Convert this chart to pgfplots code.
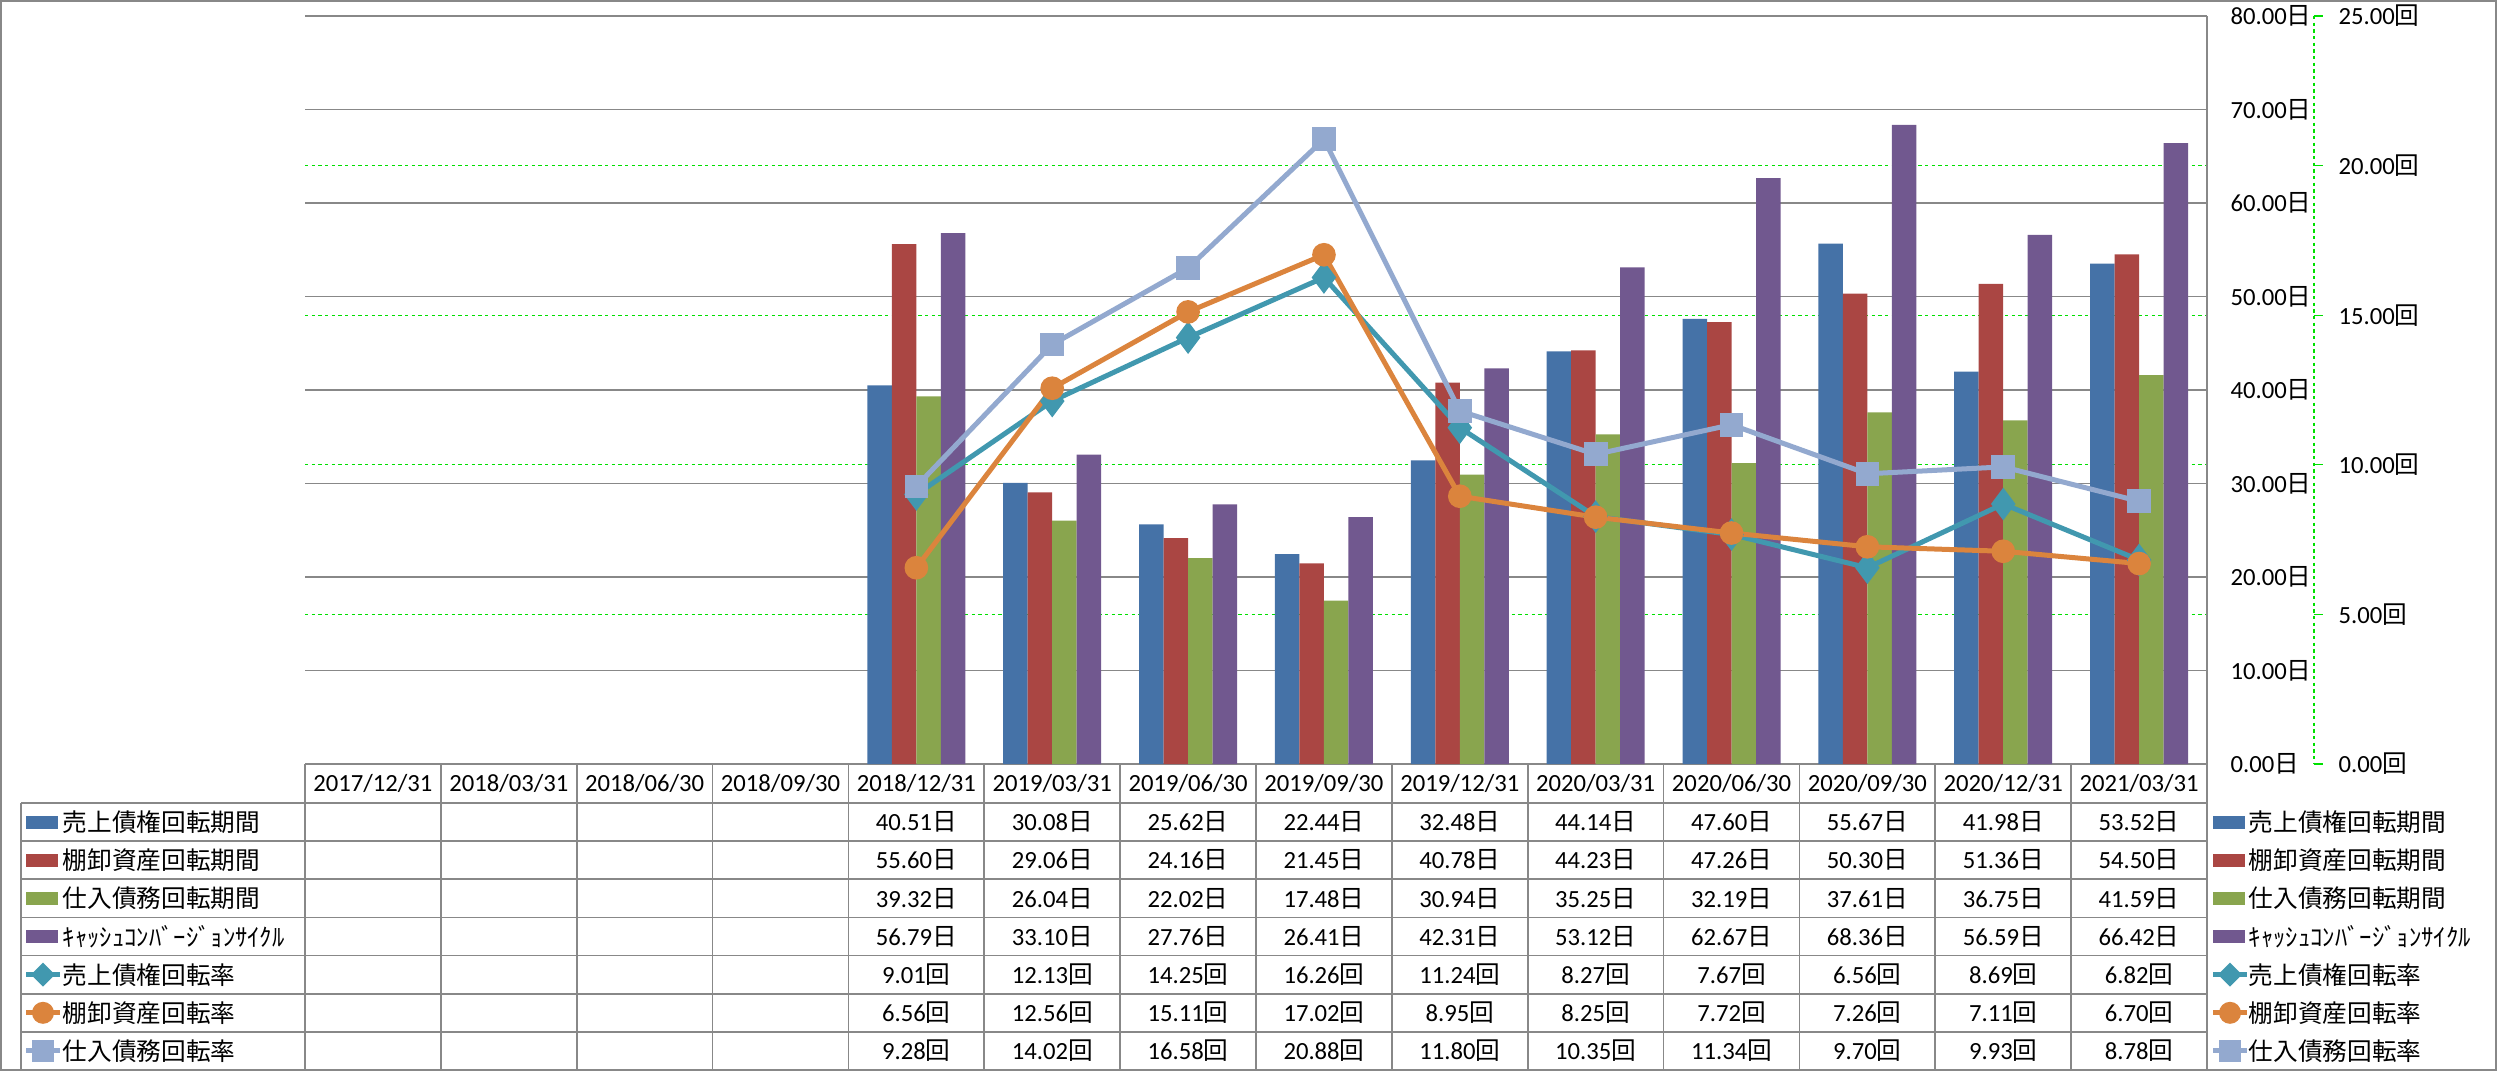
\documentclass[border=0pt]{standalone}
\usepackage{fontspec}
\setmainfont{Carlito}
\newfontfamily\cjk{Noto Sans CJK JP}
\usepackage{pgfplots}
\usepackage{pgfplotstable}
\pgfplotsset{compat=1.18}

\definecolor{cBlue}{HTML}{4572A7}
\definecolor{cRed}{HTML}{AA4643}
\definecolor{cGreen}{HTML}{89A54E}
\definecolor{cPurple}{HTML}{71588F}
\definecolor{cTeal}{HTML}{4198AF}
\definecolor{cOrange}{HTML}{DB843D}
\definecolor{cLight}{HTML}{93A9CF}
\definecolor{cGrid}{HTML}{888888}
\definecolor{cDash}{HTML}{00E000}

% x = category index (0 = 2017/12/31)
\pgfplotstableread{
x  uri   tana  shi   ccc   uriR  tanaR shiR
4  40.51 55.60 39.32 56.79 9.01  6.56  9.28
5  30.08 29.06 26.04 33.10 12.13 12.56 14.02
6  25.62 24.16 22.02 27.76 14.25 15.11 16.58
7  22.44 21.45 17.48 26.41 16.26 17.02 20.88
8  32.48 40.78 30.94 42.31 11.24 8.95  11.80
9  44.14 44.23 35.25 53.12 8.27  8.25  10.35
10 47.60 47.26 32.19 62.67 7.67  7.72  11.34
11 55.67 50.30 37.61 68.36 6.56  7.26  9.70
12 41.98 51.36 36.75 56.59 8.69  7.11  9.93
13 53.52 54.50 41.59 66.42 6.82  6.70  8.78
}\data

\pgfplotsset{
  base/.style={width=570.6pt, height=224.4pt, scale only axis,
    at={(91.5pt,-229.2pt)}, anchor=south west,
    xmin=-0.5, xmax=13.5, clip=false},
}

\begin{document}
\fontsize{7.4}{9}\selectfont
\begin{tikzpicture}
\useasboundingbox (0,0) rectangle (749.1pt,-321.3pt);

% secondary grid and labels (behind the bars)
\begin{axis}[base, ymin=0, ymax=25,
  ytick={5,10,15,20}, extra y ticks={0,25},
  extra y tick style={grid=none},
  ymajorgrids, grid style={cDash, dash pattern=on 1pt off 1pt, line width=0.4pt},
  axis line style={draw=none}, xtick=\empty, major tick length=0,
  yticklabel pos=right,
  yticklabel style={anchor=west, inner sep=0pt, xshift=39.3pt},
  yticklabel={\pgfmathprintnumber[assume math mode=true,fixed,fixed zerofill,precision=2]{\tick}{\cjk 回}}]
\end{axis}

% bars, primary axis
\begin{axis}[base, ymin=0, ymax=80, ytick={0,10,...,80},
  ymajorgrids, grid style={cGrid, line width=0.5pt},
  axis x line*=bottom, axis y line*=right,
  axis line style={cGrid, line width=0.5pt},
  xtick={0,...,13},
  xticklabels={2017/12/31,2018/03/31,2018/06/30,2018/09/30,2018/12/31,2019/03/31,2019/06/30,2019/09/30,2019/12/31,2020/03/31,2020/06/30,2020/09/30,2020/12/31,2021/03/31},
  xticklabel style={anchor=center, inner sep=0pt, yshift=-5.85pt},
  major tick length=0,
  yticklabel style={anchor=west, inner sep=0pt, xshift=6.9pt},
  yticklabel={\pgfmathprintnumber[assume math mode=true,fixed,fixed zerofill,precision=2]{\tick}{\cjk 日}},
  ybar=0pt, bar width=7.35pt]
\addplot[fill=cBlue, draw=none] table[x=x, y=uri] {\data};
\addplot[fill=cRed, draw=none] table[x=x, y=tana] {\data};
\addplot[fill=cGreen, draw=none] table[x=x, y=shi] {\data};
\addplot[fill=cPurple, draw=none] table[x=x, y=ccc] {\data};
\end{axis}

% lines, secondary axis
\begin{axis}[base, ymin=0, ymax=25, hide axis]
\addplot[cTeal, line width=1.5pt, mark=diamond*, mark size=4.5pt,
  mark options={fill=cTeal, draw=cTeal, line width=0.5pt}] table[x=x, y=uriR] {\data};
\addplot[cOrange, line width=1.5pt, mark=*, mark size=3.3pt,
  mark options={fill=cOrange, draw=cOrange, line width=0.5pt}] table[x=x, y=tanaR] {\data};
\addplot[cLight, line width=1.5pt, mark=square*, mark size=3.3pt,
  mark options={fill=cLight, draw=cLight, line width=0.5pt}] table[x=x, y=shiR] {\data};
\end{axis}

\begin{scope}[x=0.3pt, y=-0.3pt]
  % frame
  \draw[cGrid, line width=0.5pt] (1,1) rectangle (2496,1070);
  % secondary axis line
  \draw[cDash, line width=0.4pt, dash pattern=on 1pt off 1pt] (2314,16) -- (2314,764);
  \foreach \t in {0,5,...,25} \draw[cDash, line width=0.4pt] (2314,{764-\t*29.92}) -- ++(9,0);
  % data table grid
  \foreach \yy in {803,841.1,879.3,917.4,955.6,993.7,1031.9,1070} \draw[cGrid, line width=0.5pt] (21,\yy) -- (2207,\yy);
  \draw[cGrid, line width=0.5pt] (21,803) -- (21,1070);
  \foreach \k in {0,...,14} \draw[cGrid, line width=0.5pt] ({305+\k*135.857},764) -- ({305+\k*135.857},1070);
  % row labels and right legend
  \foreach \t [count=\r] in {売上債権回転期間,棚卸資産回転期間,仕入債務回転期間,ｷｬｯｼｭｺﾝﾊﾞｰｼﾞｮﾝｻｲｸﾙ,売上債権回転率,棚卸資産回転率,仕入債務回転率} {
    \node[anchor=west, inner sep=0pt] at (62,{803+38.14*(\r-0.5)}) {\cjk \t};
    \node[anchor=west, inner sep=0pt] at (2248,{803+38.14*(\r-0.5)}) {\cjk \t};
  }
  \foreach \xk in {26,2213} {
    \fill[cBlue] (\xk,815.6) rectangle ++(32,13);
    \fill[cRed] (\xk,853.7) rectangle ++(32,13);
    \fill[cGreen] (\xk,891.9) rectangle ++(32,13);
    \fill[cPurple] (\xk,930) rectangle ++(32,13);
    \draw[cTeal, line width=1.5pt] (\xk,974.6) -- ++(34,0);
    \fill[cTeal] ({\xk+17},962.6) -- ++(12,12) -- ++(-12,12) -- ++(-12,-12) -- cycle;
    \draw[cOrange, line width=1.5pt] (\xk,1012.8) -- ++(34,0);
    \fill[cOrange] ({\xk+17},1012.8) circle[radius=3.3pt];
    \draw[cLight, line width=1.5pt] (\xk,1050.9) -- ++(34,0);
    \fill[cLight] ({\xk+6},1039.9) rectangle ++(22,22);
  }
  % table values
  \foreach \v [count=\i from 4] in {40.51,30.08,25.62,22.44,32.48,44.14,47.60,55.67,41.98,53.52}
    \node at ({305+(\i+0.5)*135.857},822.1) {\v{\cjk 日}};
  \foreach \v [count=\i from 4] in {55.60,29.06,24.16,21.45,40.78,44.23,47.26,50.30,51.36,54.50}
    \node at ({305+(\i+0.5)*135.857},860.2) {\v{\cjk 日}};
  \foreach \v [count=\i from 4] in {39.32,26.04,22.02,17.48,30.94,35.25,32.19,37.61,36.75,41.59}
    \node at ({305+(\i+0.5)*135.857},898.4) {\v{\cjk 日}};
  \foreach \v [count=\i from 4] in {56.79,33.10,27.76,26.41,42.31,53.12,62.67,68.36,56.59,66.42}
    \node at ({305+(\i+0.5)*135.857},936.5) {\v{\cjk 日}};
  \foreach \v [count=\i from 4] in {9.01,12.13,14.25,16.26,11.24,8.27,7.67,6.56,8.69,6.82}
    \node at ({305+(\i+0.5)*135.857},974.6) {\v{\cjk 回}};
  \foreach \v [count=\i from 4] in {6.56,12.56,15.11,17.02,8.95,8.25,7.72,7.26,7.11,6.70}
    \node at ({305+(\i+0.5)*135.857},1012.8) {\v{\cjk 回}};
  \foreach \v [count=\i from 4] in {9.28,14.02,16.58,20.88,11.80,10.35,11.34,9.70,9.93,8.78}
    \node at ({305+(\i+0.5)*135.857},1050.9) {\v{\cjk 回}};
\end{scope}
\end{tikzpicture}
\end{document}
